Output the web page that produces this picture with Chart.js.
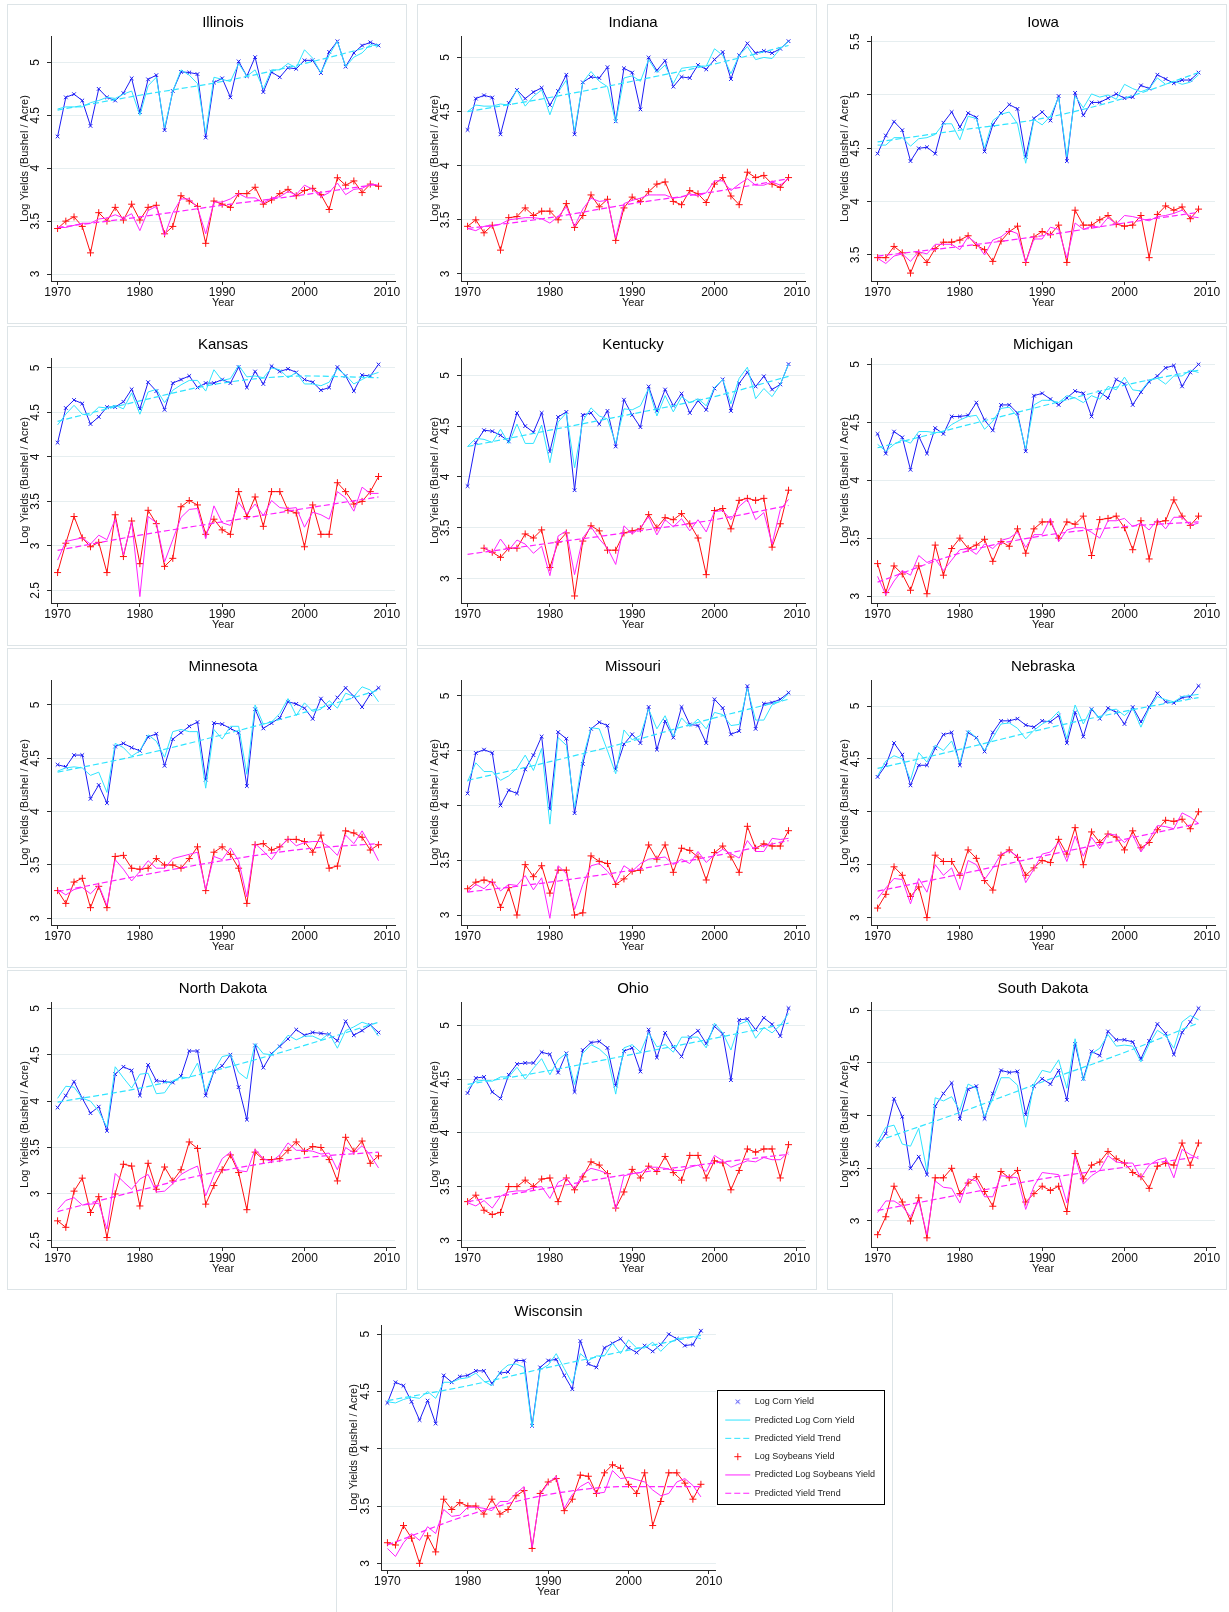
<!DOCTYPE html>
<html><head><meta charset="utf-8">
<script src="https://cdn.jsdelivr.net/npm/chart.js@4.4.1/dist/chart.umd.min.js"></script>
<style>
html,body{margin:0;padding:0;background:#fff;}
body{width:1229px;height:1612px;position:relative;overflow:hidden;}
.panel{position:absolute;background:#fff;outline:1px solid #dde4e7;}
.panel canvas{position:absolute;left:0;top:0;}
</style></head><body>
<script>
// ---------- categories ----------
const years = [1970,1971,1972,1973,1974,1975,1976,1977,1978,1979,
               1980,1981,1982,1983,1984,1985,1986,1987,1988,1989,
               1990,1991,1992,1993,1994,1995,1996,1997,1998,1999,
               2000,2001,2002,2003,2004,2005,2006,2007,2008,2009];
const trendYears = [1970,1980,1990,2000,2009];
const xTicks = [1970,1980,1990,2000,2010];
const yTicks3to5 = [3,3.5,4,4.5,5];
const yTicksIowa = [3.5,4,4.5,5,5.5];
const yTicks25to5 = [2.5,3,3.5,4,4.5,5];
const seriesLabels = ['Log Corn Yield','Predicted Log Corn Yield','Predicted Yield Trend',
                      'Log Soybeans Yield','Predicted Log Soybeans Yield','Predicted Yield Trend'];

// ---------- Illinois ----------
const ilCorn = [4.30,4.67,4.70,4.64,4.40,4.75,4.67,4.64,4.71,4.85, 4.53,4.84,4.88,4.36,4.73,4.91,4.905,4.89,4.29,4.81, 4.85,4.67,5.01,4.87,5.05,4.72,4.91,4.86,4.95,4.94, 5.02,5.02,4.90,5.10,5.20,4.96,5.09,5.16,5.19,5.16];
const ilCornPred = [4.56,4.58,4.58,4.58,4.62,4.64,4.67,4.66,4.70,4.73, 4.50,4.78,4.86,4.38,4.73,4.93,4.88,4.80,4.33,4.86, 4.84,4.82,4.99,4.87,4.93,4.75,4.93,4.93,4.99,4.95, 5.12,5.04,4.90,5.07,5.20,4.96,5.05,5.09,5.17,5.15];
const ilCornTrend = [4.55,4.69,4.82,4.99,5.17];
const ilSoy = [3.43,3.50,3.54,3.45,3.20,3.58,3.50,3.63,3.51,3.66, 3.51,3.63,3.65,3.38,3.45,3.74,3.69,3.64,3.29,3.69, 3.66,3.63,3.76,3.76,3.82,3.66,3.70,3.76,3.80,3.74, 3.79,3.81,3.75,3.61,3.91,3.84,3.88,3.77,3.85,3.83];
const ilSoyPred = [3.44,3.44,3.46,3.48,3.48,3.52,3.53,3.56,3.53,3.57, 3.41,3.60,3.64,3.36,3.58,3.71,3.71,3.63,3.38,3.68, 3.68,3.71,3.76,3.72,3.72,3.67,3.72,3.73,3.78,3.75, 3.84,3.80,3.73,3.77,3.86,3.75,3.80,3.81,3.85,3.84];
const ilSoyTrend = [3.44,3.54,3.65,3.75,3.85];

// ---------- Indiana ----------
const inCorn = [4.33,4.62,4.65,4.63,4.29,4.58,4.70,4.62,4.68,4.72, 4.56,4.69,4.84,4.29,4.77,4.82,4.81,4.91,4.41,4.90, 4.86,4.52,5.00,4.88,4.97,4.73,4.82,4.81,4.93,4.89, 4.98,5.05,4.80,5.02,5.13,5.04,5.06,5.04,5.08,5.15];
const inCornPred = [4.50,4.56,4.55,4.55,4.57,4.56,4.70,4.55,4.64,4.70, 4.47,4.68,4.79,4.32,4.77,4.87,4.78,4.73,4.40,4.81, 4.83,4.78,4.98,4.86,4.93,4.76,4.90,4.91,4.92,4.92, 5.08,5.02,4.85,5.02,5.10,4.98,5.00,4.99,5.08,5.15];
const inCornTrend = [4.50,4.63,4.78,4.94,5.11];
const inSoy = [3.44,3.50,3.38,3.45,3.22,3.52,3.53,3.61,3.54,3.58, 3.58,3.50,3.65,3.43,3.54,3.73,3.62,3.69,3.31,3.61, 3.71,3.67,3.76,3.83,3.85,3.67,3.64,3.77,3.74,3.66, 3.83,3.89,3.72,3.64,3.94,3.89,3.91,3.83,3.80,3.89];
const inSoyPred = [3.42,3.40,3.44,3.44,3.46,3.50,3.51,3.52,3.52,3.51, 3.47,3.53,3.62,3.44,3.60,3.70,3.67,3.68,3.33,3.65, 3.68,3.70,3.73,3.73,3.73,3.70,3.71,3.74,3.72,3.75, 3.86,3.86,3.77,3.83,3.88,3.82,3.82,3.85,3.82,3.88];
const inSoyTrend = [3.42,3.52,3.65,3.76,3.88];

// ---------- Iowa ----------
const iaCorn = [4.45,4.62,4.75,4.67,4.38,4.50,4.51,4.45,4.74,4.84, 4.70,4.83,4.79,4.47,4.72,4.83,4.91,4.87,4.42,4.78, 4.84,4.76,4.99,4.38,5.02,4.81,4.93,4.93,4.97,5.01, 4.97,4.98,5.09,5.06,5.19,5.15,5.11,5.14,5.14,5.21];
const iaCornPred = [4.53,4.53,4.60,4.60,4.52,4.59,4.60,4.63,4.73,4.73, 4.58,4.80,4.78,4.50,4.76,4.82,4.84,4.73,4.36,4.77, 4.72,4.80,4.98,4.42,4.99,4.88,5.01,4.98,5.00,4.96, 5.10,5.06,5.03,5.06,5.16,5.10,5.13,5.10,5.12,5.19];
const iaCornTrend = [4.56,4.67,4.78,4.97,5.21];
const iaSoy = [3.475,3.475,3.58,3.52,3.33,3.52,3.43,3.56,3.62,3.62, 3.64,3.68,3.59,3.55,3.44,3.63,3.72,3.77,3.43,3.67, 3.72,3.69,3.78,3.43,3.92,3.78,3.78,3.83,3.87,3.79, 3.77,3.78,3.87,3.475,3.88,3.96,3.92,3.95,3.84,3.93];
const iaSoyPred = [3.47,3.42,3.49,3.51,3.44,3.53,3.51,3.60,3.60,3.60, 3.55,3.67,3.61,3.50,3.64,3.67,3.73,3.70,3.43,3.65, 3.65,3.76,3.74,3.47,3.80,3.74,3.77,3.76,3.85,3.79, 3.87,3.86,3.84,3.82,3.86,3.87,3.89,3.92,3.86,3.85];
const iaSoyTrend = [3.49,3.58,3.68,3.80,3.90];

// ---------- Kansas ----------
const ksCorn = [4.16,4.55,4.64,4.60,4.37,4.45,4.56,4.56,4.62,4.76, 4.54,4.84,4.74,4.53,4.83,4.87,4.91,4.78,4.83,4.83, 4.87,4.83,5.01,4.78,4.96,4.82,5.02,4.96,4.99,4.95, 4.87,4.84,4.75,4.78,5.01,4.91,4.74,4.92,4.91,5.04];
const ksCornPred = [4.36,4.48,4.58,4.48,4.47,4.56,4.55,4.58,4.54,4.72, 4.48,4.73,4.76,4.61,4.75,4.81,4.86,4.86,4.74,4.98, 4.86,4.88,5.03,4.90,4.91,4.89,5.00,4.98,4.89,4.95, 4.82,4.82,4.80,4.84,4.99,4.92,4.82,4.87,4.92,4.95];
const ksCornTrend = [4.40,4.63,4.83,4.91,4.89];
const ksSoy = [2.70,3.03,3.33,3.09,2.99,3.04,2.70,3.35,2.88,3.28, 2.80,3.40,3.25,2.77,2.86,3.44,3.51,3.46,3.13,3.30, 3.18,3.13,3.61,3.33,3.55,3.22,3.61,3.61,3.40,3.37, 2.99,3.46,3.13,3.13,3.71,3.61,3.47,3.50,3.61,3.78];
const ksSoyPred = [2.84,3.05,3.07,3.09,3.02,3.12,3.07,3.30,2.90,3.27, 2.43,3.33,3.26,2.82,3.07,3.32,3.41,3.42,3.08,3.45, 3.26,3.23,3.49,3.36,3.47,3.34,3.51,3.43,3.42,3.43, 3.21,3.38,3.35,3.30,3.61,3.54,3.39,3.66,3.59,3.59];
const ksSoyTrend = [2.95,3.12,3.27,3.42,3.55];

// ---------- Kentucky ----------
const kyCorn = [3.91,4.34,4.46,4.45,4.41,4.35,4.63,4.50,4.44,4.63, 4.25,4.59,4.64,3.87,4.61,4.63,4.52,4.65,4.30,4.76, 4.61,4.49,4.89,4.65,4.86,4.70,4.82,4.63,4.75,4.66, 4.87,4.96,4.65,4.92,5.03,4.89,4.99,4.86,4.91,5.11];
const kyCornPred = [4.30,4.38,4.37,4.34,4.47,4.33,4.52,4.33,4.33,4.51, 4.14,4.54,4.63,4.09,4.55,4.68,4.60,4.57,4.33,4.67, 4.66,4.70,4.87,4.60,4.80,4.64,4.79,4.73,4.77,4.70, 4.88,4.96,4.72,4.97,5.08,4.77,4.87,4.79,4.91,5.11];
const kyCornTrend = [4.30,4.46,4.62,4.79,4.99];
const kySoy = [null,null,3.30,3.26,3.21,3.30,3.30,3.44,3.40,3.48, 3.11,3.36,3.45,2.83,3.37,3.52,3.47,3.28,3.28,3.45, 3.47,3.49,3.63,3.50,3.60,3.58,3.64,3.54,3.40,3.04, 3.67,3.69,3.49,3.77,3.79,3.77,3.79,3.31,3.54,3.87];
const kySoyPred = [null,null,3.31,3.25,3.39,3.28,3.38,3.34,3.25,3.32, 3.03,3.42,3.47,3.04,3.40,3.51,3.39,3.30,3.14,3.52, 3.44,3.50,3.61,3.43,3.58,3.51,3.59,3.47,3.58,3.46, 3.66,3.67,3.58,3.71,3.78,3.58,3.65,3.34,3.68,3.78];
const kySoyTrend = [3.24,3.35,3.46,3.58,3.72];

// ---------- Michigan ----------
const miCorn = [4.40,4.23,4.42,4.37,4.09,4.38,4.23,4.45,4.40,4.55, 4.55,4.56,4.67,4.52,4.43,4.65,4.65,4.58,4.25,4.73, 4.75,4.70,4.65,4.71,4.77,4.75,4.55,4.76,4.71,4.87, 4.83,4.65,4.76,4.85,4.90,4.97,4.99,4.81,4.93,5.00];
const miCornPred = [4.31,4.25,4.31,4.35,4.32,4.42,4.42,4.41,4.42,4.48, 4.52,4.55,4.56,4.44,4.51,4.62,4.63,4.55,4.27,4.65, 4.69,4.69,4.67,4.73,4.71,4.67,4.73,4.70,4.81,4.78, 4.89,4.78,4.77,4.86,4.88,4.83,4.90,4.90,4.95,4.93];
const miCornTrend = [4.28,4.46,4.64,4.82,4.95];
const miSoy = [3.28,3.03,3.26,3.19,3.05,3.26,3.02,3.44,3.18,3.41, 3.50,3.41,3.44,3.49,3.30,3.47,3.43,3.58,3.37,3.58, 3.64,3.64,3.50,3.64,3.62,3.69,3.35,3.66,3.67,3.69, 3.59,3.40,3.65,3.32,3.64,3.65,3.83,3.69,3.61,3.69];
const miSoyPred = [3.17,3.01,3.13,3.22,3.18,3.35,3.29,3.32,3.22,3.31, 3.40,3.41,3.36,3.45,3.41,3.48,3.50,3.55,3.42,3.53, 3.53,3.67,3.47,3.57,3.59,3.59,3.55,3.50,3.65,3.65, 3.67,3.60,3.63,3.57,3.66,3.58,3.68,3.68,3.61,3.63];
const miSoyTrend = [3.12,3.37,3.52,3.60,3.64];

// ---------- Minnesota ----------
const mnCorn = [4.44,4.42,4.53,4.53,4.12,4.25,4.08,4.61,4.64,4.60, 4.57,4.70,4.73,4.43,4.68,4.74,4.80,4.84,4.30,4.83, 4.82,4.78,4.74,4.24,4.96,4.78,4.83,4.88,5.03,5.01, 4.97,4.87,5.06,4.97,5.07,5.16,5.08,4.98,5.10,5.16];
const mnCornPred = [4.38,4.41,4.42,4.41,4.34,4.37,4.18,4.64,4.60,4.52, 4.57,4.72,4.66,4.51,4.75,4.77,4.75,4.75,4.22,4.77, 4.68,4.80,4.80,4.35,5.00,4.82,4.84,4.92,5.06,4.90, 5.02,4.94,4.96,5.04,4.97,5.11,5.08,5.17,5.14,5.03];
const mnCornTrend = [4.37,4.53,4.72,4.93,5.14];
const mnSoy = [3.26,3.14,3.34,3.375,3.10,3.30,3.10,3.58,3.59,3.47, 3.46,3.47,3.56,3.50,3.50,3.47,3.56,3.67,3.26,3.62, 3.67,3.60,3.47,3.14,3.69,3.70,3.64,3.67,3.74,3.74, 3.72,3.62,3.78,3.47,3.49,3.82,3.80,3.76,3.64,3.69];
const mnSoyPred = [3.27,3.22,3.27,3.29,3.23,3.31,3.12,3.55,3.46,3.35, 3.44,3.54,3.47,3.47,3.56,3.58,3.60,3.62,3.27,3.58, 3.55,3.66,3.54,3.20,3.70,3.63,3.55,3.66,3.75,3.68, 3.71,3.72,3.72,3.67,3.59,3.78,3.70,3.82,3.69,3.54];
const mnSoyTrend = [3.25,3.40,3.54,3.65,3.70];

// ---------- Missouri ----------
const moCorn = [4.11,4.48,4.51,4.48,4.00,4.14,4.11,4.33,4.46,4.63, 3.97,4.67,4.61,3.93,4.38,4.70,4.76,4.73,4.33,4.56, 4.65,4.57,4.90,4.51,4.77,4.62,4.90,4.74,4.73,4.57, 4.97,4.89,4.65,4.68,5.09,4.70,4.93,4.94,4.97,5.03];
const moCornPred = [4.22,4.39,4.31,4.31,4.23,4.27,4.34,4.46,4.32,4.52, 3.83,4.62,4.55,3.98,4.43,4.71,4.70,4.50,4.29,4.69, 4.60,4.64,4.88,4.70,4.82,4.63,4.80,4.72,4.79,4.70, 4.85,4.83,4.73,4.74,5.07,4.78,4.78,4.92,4.95,5.02];
const moCornTrend = [4.23,4.40,4.59,4.80,4.97];
const moSoy = [3.24,3.30,3.32,3.30,3.07,3.25,3.00,3.46,3.35,3.45, 3.20,3.41,3.41,3.00,3.02,3.54,3.49,3.47,3.28,3.33, 3.40,3.41,3.64,3.51,3.64,3.39,3.61,3.59,3.53,3.32, 3.57,3.63,3.53,3.39,3.81,3.61,3.65,3.63,3.63,3.77];
const moSoyPred = [3.21,3.28,3.24,3.31,3.22,3.28,3.27,3.36,3.23,3.34, 2.97,3.45,3.38,3.05,3.28,3.45,3.47,3.40,3.30,3.45, 3.40,3.47,3.51,3.52,3.53,3.46,3.51,3.47,3.58,3.48, 3.55,3.60,3.56,3.52,3.68,3.58,3.58,3.70,3.69,3.70];
const moSoyTrend = [3.21,3.30,3.41,3.54,3.68];

// ---------- Nebraska ----------
const neCorn = [4.33,4.44,4.65,4.54,4.25,4.44,4.44,4.60,4.73,4.75, 4.44,4.75,4.70,4.57,4.75,4.86,4.86,4.88,4.82,4.80, 4.86,4.85,4.91,4.65,4.94,4.71,4.97,4.88,4.98,4.94, 4.83,4.99,4.85,4.99,5.12,5.04,5.03,5.08,5.09,5.19];
const neCornPred = [4.34,4.48,4.53,4.50,4.30,4.56,4.47,4.63,4.58,4.67, 4.46,4.77,4.70,4.58,4.70,4.83,4.84,4.79,4.69,4.77, 4.83,4.87,4.95,4.69,5.01,4.83,4.98,4.88,4.96,4.97, 4.91,4.98,4.80,4.98,5.09,5.06,5.04,5.09,5.10,5.11];
const neCornTrend = [4.41,4.59,4.78,4.95,5.08];
const neSoy = [3.09,3.22,3.48,3.40,3.20,3.29,3.00,3.59,3.53,3.53, 3.40,3.64,3.56,3.35,3.26,3.59,3.64,3.57,3.40,3.47, 3.54,3.52,3.74,3.60,3.85,3.50,3.81,3.71,3.79,3.76, 3.64,3.82,3.66,3.71,3.83,3.92,3.91,3.93,3.84,4.00];
const neSoyPred = [3.18,3.28,3.37,3.36,3.13,3.37,3.24,3.50,3.40,3.47, 3.26,3.54,3.50,3.36,3.47,3.60,3.63,3.58,3.33,3.46, 3.60,3.62,3.71,3.53,3.77,3.58,3.76,3.65,3.79,3.78, 3.71,3.78,3.62,3.74,3.87,3.86,3.84,3.99,3.95,3.89];
const neSoyTrend = [3.25,3.41,3.58,3.74,3.89];

// ---------- North Dakota ----------
const ndCorn = [3.93,4.06,4.21,4.03,3.87,3.94,3.68,4.29,4.37,4.33, 4.06,4.39,4.22,4.21,4.20,4.27,4.54,4.54,4.06,4.32, 4.38,4.50,4.15,3.80,4.60,4.36,4.51,4.59,4.67,4.77, 4.71,4.74,4.73,4.72,4.65,4.86,4.71,4.76,4.82,4.74];
const ndCornPred = [4.03,4.16,4.15,4.03,4.00,3.89,3.72,4.37,4.25,4.14, 4.29,4.30,4.08,4.09,4.22,4.26,4.25,4.41,4.10,4.33, 4.48,4.50,4.31,4.24,4.62,4.51,4.50,4.60,4.71,4.66, 4.70,4.70,4.66,4.73,4.57,4.76,4.80,4.85,4.82,4.70];
const ndCornTrend = [3.99,4.14,4.35,4.60,4.85];
const ndSoy = [2.71,2.64,3.03,3.17,2.80,2.97,2.53,3.00,3.32,3.30, 2.87,3.33,3.05,3.29,3.14,3.26,3.56,3.49,2.89,3.09, 3.26,3.42,3.23,2.83,3.45,3.37,3.37,3.38,3.47,3.56, 3.46,3.51,3.50,3.37,3.14,3.61,3.46,3.57,3.33,3.41];
const ndSoyPred = [2.83,2.93,2.96,2.88,2.89,2.90,2.62,3.22,3.13,3.05, 3.16,3.21,3.02,3.03,3.11,3.21,3.26,3.30,2.98,3.20, 3.38,3.45,3.25,3.24,3.48,3.38,3.35,3.42,3.55,3.47, 3.47,3.46,3.43,3.44,3.26,3.50,3.44,3.52,3.42,3.28];
const ndSoyTrend = [2.81,3.04,3.25,3.39,3.45];

// ---------- Ohio ----------
const ohCorn = [4.37,4.51,4.52,4.38,4.32,4.54,4.64,4.65,4.65,4.75, 4.73,4.56,4.74,4.38,4.77,4.84,4.85,4.79,4.44,4.76, 4.79,4.57,4.96,4.70,4.93,4.80,4.71,4.89,4.95,4.83, 4.99,4.92,4.49,5.05,5.06,4.96,5.07,5.01,4.90,5.16];
const ohCornPred = [4.41,4.48,4.49,4.48,4.52,4.52,4.61,4.50,4.60,4.69, 4.54,4.68,4.74,4.45,4.74,4.82,4.78,4.71,4.36,4.79, 4.82,4.75,4.93,4.80,4.82,4.75,4.89,4.89,4.89,4.79, 5.02,4.93,4.77,5.01,5.04,4.88,4.98,4.93,5.00,5.11];
const ohCornTrend = [4.45,4.58,4.73,4.88,5.02];
const ohSoy = [3.36,3.42,3.28,3.24,3.26,3.50,3.50,3.56,3.50,3.57, 3.58,3.36,3.58,3.47,3.59,3.73,3.70,3.62,3.30,3.45, 3.66,3.58,3.69,3.64,3.78,3.63,3.56,3.79,3.79,3.58, 3.74,3.72,3.47,3.65,3.85,3.82,3.85,3.85,3.58,3.89];
const ohSoyPred = [3.35,3.32,3.37,3.30,3.41,3.45,3.46,3.46,3.49,3.50, 3.39,3.54,3.58,3.48,3.62,3.67,3.65,3.62,3.29,3.60, 3.62,3.63,3.68,3.68,3.67,3.65,3.65,3.68,3.70,3.64, 3.79,3.74,3.68,3.71,3.74,3.73,3.77,3.75,3.75,3.82];
const ohSoyTrend = [3.36,3.49,3.62,3.72,3.80];

// ---------- South Dakota ----------
const sdCorn = [3.72,3.83,4.16,3.99,3.50,3.61,3.44,4.09,4.21,4.31, 3.97,4.25,4.28,3.97,4.21,4.43,4.41,4.42,4.01,4.28, 4.35,4.30,4.43,4.15,4.68,4.35,4.61,4.57,4.80,4.72, 4.72,4.70,4.54,4.71,4.87,4.78,4.58,4.79,4.89,5.02];
const sdCornPred = [3.75,3.89,3.91,3.73,3.71,3.88,3.47,4.17,4.14,4.18, 4.05,4.30,4.26,3.99,4.16,4.36,4.36,4.29,3.89,4.30, 4.43,4.41,4.53,4.26,4.73,4.33,4.59,4.64,4.77,4.66, 4.67,4.66,4.51,4.68,4.81,4.76,4.64,4.89,4.95,4.91];
const sdCornTrend = [3.76,4.03,4.32,4.60,4.88];
const sdSoy = [2.87,3.04,3.33,3.18,3.00,3.22,2.84,3.41,3.41,3.50, 3.26,3.36,3.42,3.28,3.14,3.47,3.41,3.48,3.18,3.26, 3.33,3.29,3.33,3.09,3.64,3.40,3.53,3.56,3.66,3.59, 3.55,3.46,3.42,3.31,3.52,3.55,3.53,3.74,3.53,3.74];
const sdSoyPred = [3.08,3.19,3.19,3.14,3.04,3.19,2.87,3.38,3.32,3.31, 3.17,3.40,3.38,3.23,3.23,3.43,3.42,3.41,3.11,3.33, 3.46,3.45,3.44,3.17,3.61,3.35,3.43,3.48,3.62,3.56, 3.55,3.55,3.41,3.53,3.58,3.60,3.41,3.68,3.63,3.59];
const sdSoyTrend = [3.10,3.25,3.40,3.51,3.61];

// ---------- Wisconsin ----------
const wiCorn = [4.40,4.58,4.55,4.41,4.25,4.42,4.22,4.64,4.58,4.63, 4.64,4.68,4.68,4.57,4.66,4.67,4.77,4.77,4.20,4.71, 4.77,4.78,4.64,4.52,4.94,4.74,4.71,4.88,4.92,4.96, 4.88,4.84,4.90,4.85,4.91,5.00,4.96,4.90,4.91,5.03];
const wiCornPred = [4.41,4.40,4.43,4.45,4.44,4.50,4.44,4.58,4.58,4.61, 4.62,4.66,4.59,4.55,4.67,4.73,4.74,4.71,4.19,4.69, 4.73,4.83,4.70,4.57,4.83,4.77,4.81,4.81,4.92,4.83, 4.95,4.88,4.88,4.93,4.85,4.92,4.96,4.97,4.98,4.96];
const wiCornTrend = [4.42,4.55,4.71,4.86,4.99];
const wiSoy = [3.18,3.16,3.33,3.22,3.00,3.24,3.10,3.56,3.47,3.53, 3.50,3.50,3.43,3.56,3.43,3.47,3.59,3.635,3.13,3.61, 3.71,3.74,3.46,3.56,3.77,3.76,3.61,3.79,3.86,3.83, 3.69,3.61,3.79,3.33,3.54,3.79,3.79,3.70,3.56,3.69];
const wiSoyPred = [3.13,3.06,3.18,3.26,3.20,3.32,3.26,3.47,3.41,3.42, 3.49,3.49,3.48,3.46,3.54,3.54,3.61,3.67,3.14,3.60, 3.70,3.76,3.48,3.60,3.67,3.71,3.61,3.62,3.81,3.74, 3.75,3.73,3.71,3.64,3.59,3.61,3.71,3.74,3.68,3.58];
const wiSoyTrend = [3.16,3.42,3.60,3.67,3.67];

// ---------- panels (data links + axis ranges) ----------
const panels = [
  {name:'Illinois', s:[ilCorn,ilCornPred,ilCornTrend,ilSoy,ilSoyPred,ilSoyTrend], yMin:2.934, yMax:5.25, yTicks:yTicks3to5},
  {name:'Indiana', s:[inCorn,inCornPred,inCornTrend,inSoy,inSoyPred,inSoyTrend], yMin:2.935, yMax:5.198, yTicks:yTicks3to5},
  {name:'Iowa', s:[iaCorn,iaCornPred,iaCornTrend,iaSoy,iaSoyPred,iaSoyTrend], yMin:3.256, yMax:5.553, yTicks:yTicksIowa},
  {name:'Kansas', s:[ksCorn,ksCornPred,ksCornTrend,ksSoy,ksSoyPred,ksSoyTrend], yMin:2.358, yMax:5.112, yTicks:yTicks25to5},
  {name:'Kentucky', s:[kyCorn,kyCornPred,kyCornTrend,kySoy,kySoyPred,kySoyTrend], yMin:2.761, yMax:5.17, yTicks:yTicks3to5},
  {name:'Michigan', s:[miCorn,miCornPred,miCornTrend,miSoy,miSoyPred,miSoyTrend], yMin:2.94, yMax:5.055, yTicks:yTicks3to5},
  {name:'Minnesota', s:[mnCorn,mnCornPred,mnCornTrend,mnSoy,mnSoyPred,mnSoyTrend], yMin:2.9375, yMax:5.234, yTicks:yTicks3to5},
  {name:'Missouri', s:[moCorn,moCornPred,moCornTrend,moSoy,moSoyPred,moSoyTrend], yMin:2.909, yMax:5.146, yTicks:yTicks3to5},
  {name:'Nebraska', s:[neCorn,neCornPred,neCornTrend,neSoy,neSoyPred,neSoyTrend], yMin:2.93, yMax:5.246, yTicks:yTicks3to5},
  {name:'North Dakota', s:[ndCorn,ndCornPred,ndCornTrend,ndSoy,ndSoyPred,ndSoyTrend], yMin:2.428, yMax:5.068, yTicks:yTicks25to5},
  {name:'Ohio', s:[ohCorn,ohCornPred,ohCornTrend,ohSoy,ohSoyPred,ohSoyTrend], yMin:2.938, yMax:5.217, yTicks:yTicks3to5},
  {name:'South Dakota', s:[sdCorn,sdCornPred,sdCornTrend,sdSoy,sdSoyPred,sdSoyTrend], yMin:2.753, yMax:5.079, yTicks:yTicks3to5},
  {name:'Wisconsin', s:[wiCorn,wiCornPred,wiCornTrend,wiSoy,wiSoyPred,wiSoyTrend], yMin:2.942, yMax:5.08, yTicks:yTicks3to5}
];

// ---------- layout ----------
const colLeft = [8, 418, 828];
const rowTop = [5, 327, 649, 971];
const boxes = [];
for (let r = 0; r < 4; r++) for (let c = 0; c < 3; c++) boxes.push({left: colLeft[c], top: rowTop[r], w: 398, h: 318, yw: 43, xMax: 2011.0, legend: false});
boxes.push({left: 337, top: 1294, w: 555, h: 318, yw: 44, xMax: 2010.87, legend: true});

const FONT = '"Liberation Sans", Arial, Helvetica, sans-serif';
Chart.defaults.font.family = FONT;
const BLUE = '#1c1cf5', CYAN = '#2fe4ff', RED = '#ff1010', MAGENTA = '#ff22ff';
const AXIS = '#2a2a2a', GRID = '#e6eef0', TEXT = '#111';

function markerCanvas(kind, color) {
  const c = document.createElement('canvas');
  c.width = 9; c.height = 9;
  const g = c.getContext('2d');
  g.strokeStyle = color; g.lineWidth = 1;
  g.beginPath();
  if (kind === 'x') { g.moveTo(2.5, 2.5); g.lineTo(6.5, 6.5); g.moveTo(6.5, 2.5); g.lineTo(2.5, 6.5); }
  else { g.moveTo(1, 4.5); g.lineTo(8, 4.5); g.moveTo(4.5, 1); g.lineTo(4.5, 8); }
  g.stroke();
  return c;
}

const legendBoxPlugin = {
  id: 'legendBox',
  afterDraw(chart) {
    const lg = chart.legend;
    if (!lg || !lg.options.display) return;
    const hb = lg.legendHitBoxes;
    if (!hb || !hb.length) return;
    const last = hb[hb.length - 1];
    const top = Math.round(hb[0].top - 7) + 0.5;
    const bottom = Math.round(last.top + last.height + 6) + 0.5;
    const left = Math.round(lg.left + 1) + 0.5;
    const right = Math.round(lg.right - 1) + 0.5;
    const ctx = chart.ctx;
    ctx.save();
    ctx.strokeStyle = '#000'; ctx.lineWidth = 1; ctx.setLineDash([]);
    ctx.strokeRect(left, top, right - left, bottom - top);
    ctx.restore();
  }
};

function makeChart(p, box) {
  const div = document.createElement('div');
  div.className = 'panel';
  div.style.left = box.left + 'px'; div.style.top = box.top + 'px';
  div.style.width = box.w + 'px'; div.style.height = box.h + 'px';
  const cv = document.createElement('canvas');
  cv.width = box.w; cv.height = box.h;
  cv.style.width = box.w + 'px'; cv.style.height = box.h + 'px';
  div.appendChild(cv); document.body.appendChild(div);

  const pts = arr => years.map((yr, i) => ({x: yr, y: arr[i]}));
  const tpts = arr => trendYears.map((yr, i) => ({x: yr, y: arr[i]}));
  const [corn, cornPred, cornTrend, soy, soyPred, soyTrend] = p.s;
  const datasets = [
    {label: seriesLabels[0], data: pts(corn), borderColor: BLUE, backgroundColor: BLUE, borderWidth: 1,
     pointStyle: 'crossRot', pointRadius: 2.6, pointBorderWidth: 1, pointBorderColor: BLUE, legendKey: markerCanvas('x', BLUE)},
    {label: seriesLabels[1], data: pts(cornPred), borderColor: CYAN, backgroundColor: CYAN, borderWidth: 1,
     pointRadius: 0, legendKey: 'line'},
    {label: seriesLabels[2], data: tpts(cornTrend), borderColor: CYAN, backgroundColor: CYAN, borderWidth: 1.2,
     borderDash: [6, 3], pointRadius: 0, cubicInterpolationMode: 'monotone', legendKey: 'line'},
    {label: seriesLabels[3], data: pts(soy), borderColor: RED, backgroundColor: RED, borderWidth: 1,
     pointStyle: 'cross', pointRadius: 3.5, pointBorderWidth: 1, pointBorderColor: RED, legendKey: markerCanvas('+', RED)},
    {label: seriesLabels[4], data: pts(soyPred), borderColor: MAGENTA, backgroundColor: MAGENTA, borderWidth: 1,
     pointRadius: 0, legendKey: 'line'},
    {label: seriesLabels[5], data: tpts(soyTrend), borderColor: MAGENTA, backgroundColor: MAGENTA, borderWidth: 1.2,
     borderDash: [6, 3], pointRadius: 0, cubicInterpolationMode: 'monotone', legendKey: 'line'}
  ];
  datasets.forEach((d, i) => { d.order = 5 - i; d.fill = false; d.tension = 0; d.spanGaps = false; });

  const chart = new Chart(cv, {
    type: 'line',
    data: {datasets},
    plugins: box.legend ? [legendBoxPlugin] : [],
    options: {
      responsive: false, animation: false, devicePixelRatio: 1, events: [],
      layout: {padding: {left: 0, top: 0, bottom: 0, right: box.legend ? 7 : 11}},
      plugins: {
        tooltip: {enabled: false},
        title: {display: true, text: p.name, color: '#000', fullSize: false,
                font: {family: FONT, size: 15, weight: 'normal'}, padding: {top: 9.3, bottom: 3.7}},
        legend: box.legend ? {
          display: true, position: 'right', align: 'center', fullSize: false,
          labels: {
            usePointStyle: true, pointStyleWidth: 25, boxHeight: 4, padding: 9.3, color: '#222',
            font: {family: FONT, size: 9},
            generateLabels: ch => ch.data.datasets.map((d, i) => ({
              text: d.label, datasetIndex: i, hidden: false,
              fillStyle: d.borderColor, strokeStyle: d.borderColor, fontColor: '#222',
              lineWidth: 1, lineDash: d.borderDash || [], pointStyle: d.legendKey
            }))
          }
        } : {display: false}
      },
      scales: {
        x: {
          type: 'linear', min: 1969.2, max: box.xMax,
          afterBuildTicks: s => { s.ticks = xTicks.map(v => ({value: v})); },
          afterFit: s => { s.height = 42; },
          ticks: {autoSkip: false, padding: 0, color: TEXT, font: {family: FONT, size: 12}, callback: v => String(v), maxRotation: 0},
          grid: {drawOnChartArea: false, drawTicks: true, tickLength: 4, tickColor: AXIS},
          border: {display: true, color: AXIS, width: 1},
          title: {display: true, text: 'Year', color: TEXT, font: {family: FONT, size: 11}, padding: {top: 0, bottom: 13.4}}
        },
        y: {
          type: 'linear', min: p.yMin, max: p.yMax,
          afterBuildTicks: s => { s.ticks = p.yTicks.map(v => ({value: v})); },
          afterFit: s => { s.width = box.yw; },
          ticks: {autoSkip: false, minRotation: 90, maxRotation: 90, crossAlign: 'center', padding: 3,
                  color: TEXT, font: {family: FONT, size: 12}, callback: v => String(v)},
          grid: {color: GRID, drawTicks: true, tickLength: 4, tickColor: AXIS},
          border: {display: true, color: AXIS, width: 1},
          title: {display: true, text: 'Log Yields (Bushel / Acre)', color: TEXT, font: {family: FONT, size: 11}, padding: {top: 10, bottom: 0}}
        }
      }
    }
  });

  if (box.legend && chart.legend) {
    // let the legend keep its natural width (layout would otherwise cap it at a quarter of the canvas)
    const lg = chart.legend;
    const proto = Object.getPrototypeOf(lg);
    lg.update = function (maxWidth, maxHeight, margins) { return proto.update.call(this, 1000, maxHeight, margins); };
    chart.update();
    const targetRight = 379;
    const dx = chart.chartArea.right - targetRight;
    if (Math.abs(dx) > 0.5) {
      chart.options.layout.padding.right = Math.max(0, chart.options.layout.padding.right + dx);
      chart.update();
    }
  }
  return chart;
}

panels.forEach((p, i) => makeChart(p, boxes[i]));
</script>
</body></html>
